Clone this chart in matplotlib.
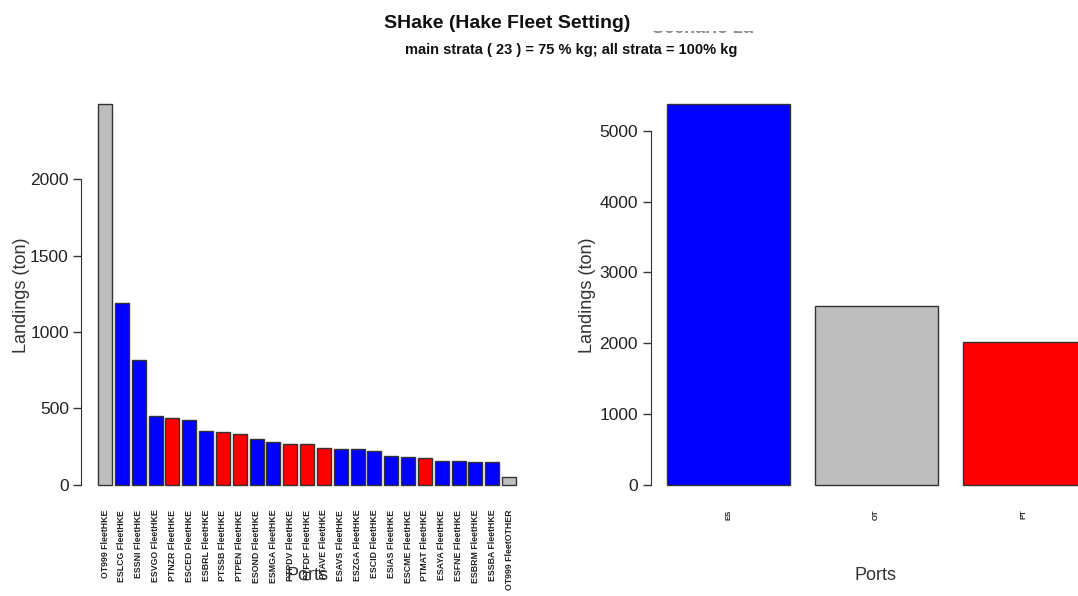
import numpy as np
import matplotlib.pyplot as plt
from matplotlib.patches import Rectangle

plt.rcParams['font.family'] = ['Liberation Sans', 'DejaVu Sans']

# landings per stratum (ton), main strata plus the rest
strata = ['OT999 FleetHKE', 'ESLCG FleetHKE', 'ESSNI FleetHKE', 'ESVGO FleetHKE',
          'PTNZR FleetHKE', 'ESCED FleetHKE', 'ESBRL FleetHKE', 'PTSSB FleetHKE',
          'PTPEN FleetHKE', 'ESOND FleetHKE', 'ESMGA FleetHKE', 'PTPDV FleetHKE',
          'PTFDF FleetHKE', 'PTAVE FleetHKE', 'ESAVS FleetHKE', 'ESZGA FleetHKE',
          'ESCID FleetHKE', 'ESIAS FleetHKE', 'ESCME FleetHKE', 'PTMAT FleetHKE',
          'ESAYA FleetHKE', 'ESFNE FleetHKE', 'ESBRM FleetHKE', 'ESSBA FleetHKE',
          'OT999 FleetOTHER']
strata_landings = [2490, 1190, 817, 447, 440, 423, 349, 347, 331, 298, 281, 266, 266,
                   240, 231, 231, 222, 190, 181, 172, 157, 157, 150, 150, 50]

# landings per country (ton)
countries = ['ES', 'OT', 'PT']
country_landings = [5377, 2519, 2014]

colours = {'ES': '#0000FF', 'PT': '#FF0000', 'OT': '#BEBEBE'}
left_ticks = [0, 500, 1000, 1500, 2000]
right_ticks = [0, 1000, 2000, 3000, 4000, 5000]

W, H = 1078, 596
fig = plt.figure(figsize=(W / 100, H / 100), dpi=100)


def px_axes(x0, x1, y0, y1):
    return fig.add_axes([x0 / W, 1 - y1 / H, (x1 - x0) / W, (y1 - y0) / H])


def barplot(ax, names, vals, ticks, labsize, labweight):
    # R-style barplot: width 1, space 0.2, 4% padding
    n = len(vals)
    x = 0.7 + 1.2 * np.arange(n)
    cols = [colours[s[:2]] for s in names]
    ax.bar(x, vals, width=1, color=cols, edgecolor='#333333', linewidth=1)
    span = 1.2 * n - 0.2
    ax.set_xlim(0.2 - 0.04 * span, 1.2 * n + 0.04 * span)
    top = max(vals)
    ax.set_ylim(-0.04 * top, 1.04 * top)
    for s in ['top', 'right', 'bottom']:
        ax.spines[s].set_visible(False)
    ax.spines['left'].set_bounds(ticks[0], ticks[-1])
    ax.spines['left'].set_color('#333333')
    ax.set_yticks(ticks)
    ax.set_yticklabels([str(t) for t in ticks], fontsize=12.5, color='#222222')
    ax.tick_params(axis='y', length=6, width=1, color='#333333', pad=3)
    ax.set_xticks(x)
    ax.set_xticklabels(names, rotation=90, fontsize=labsize, fontweight=labweight,
                       va='top', color='#222222')
    ax.tick_params(axis='x', length=0, pad=7)


ax1 = px_axes(81.3, 532.8, 89, 500)
barplot(ax1, strata, strata_landings, left_ticks, 6.3, 'bold')

ax2 = px_axes(650.6, 1102.6, 89, 500)
barplot(ax2, countries, country_landings, right_ticks, 5.5, 'bold')

for xc in [307, 876]:
    fig.text(xc / W, 1 - 575 / H, 'Ports', ha='center', va='center', fontsize=13, color='#333333')
for xc in [22, 588]:
    fig.text(xc / W, 1 - 295 / H, 'Landings (ton)', ha='center', va='center',
             rotation=90, fontsize=13, color='#333333')

fig.text(507 / W, 1 - 23 / H, 'SHake (Hake Fleet Setting)', ha='center', va='center',
         fontsize=14, fontweight='bold', color='#111111')
fig.text(571 / W, 1 - 50 / H, 'main strata ( 23 ) = 75 % kg; all strata = 100% kg',
         ha='center', va='center', fontsize=10.5, fontweight='bold', color='#111111')

# faint caption behind the title, masked so only its lower edge shows
fig.text(703 / W, 1 - 33 / H, 'Scenario 2a', ha='center', va='baseline',
         fontsize=13, fontweight='bold', color='#8a8a8a')
fig.patches.append(Rectangle((640 / W, 1 - 30.5 / H), 170 / W, 30.5 / H,
                             transform=fig.transFigure, facecolor='white',
                             edgecolor='none', zorder=5))

fig.savefig('out.png', dpi=100)
